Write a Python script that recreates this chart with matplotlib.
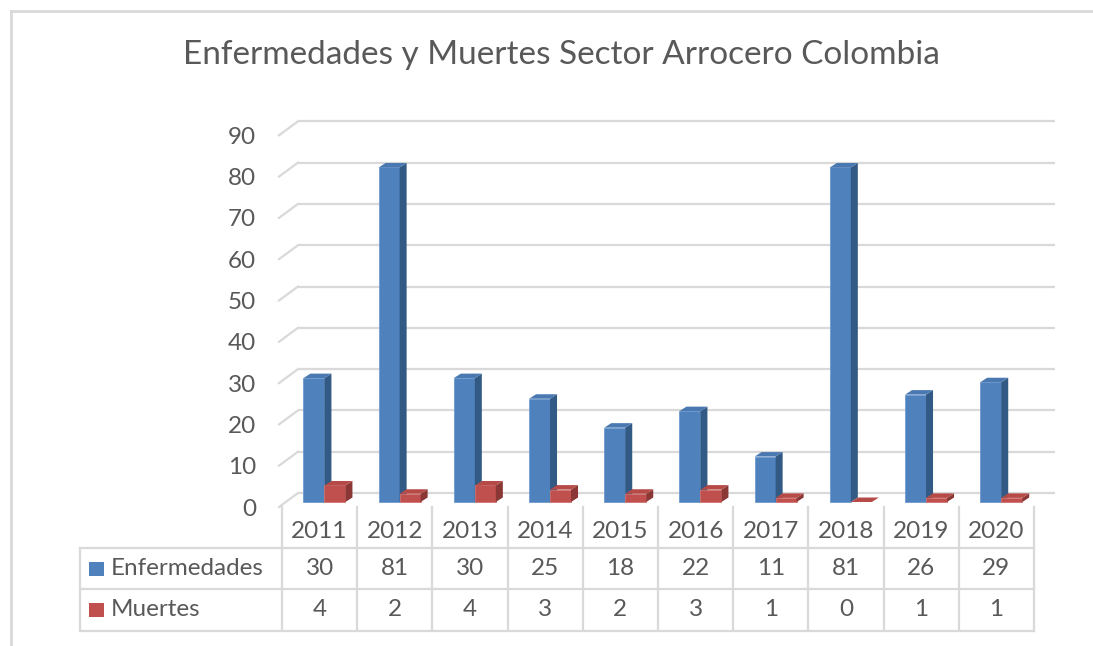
import matplotlib
matplotlib.use('Agg')
import matplotlib.pyplot as plt
from matplotlib.patches import Polygon, Rectangle
import matplotlib.transforms as mtransforms

# data
years = ['2011', '2012', '2013', '2014', '2015', '2016', '2017', '2018', '2019', '2020']
enfermedades = [30, 81, 30, 25, 18, 22, 11, 81, 26, 29]
muertes = [4, 2, 4, 3, 2, 3, 1, 0, 1, 1]
series_names = ['Enfermedades', 'Muertes']
yticks = list(range(0, 100, 10))

W, H = 1093, 646
plt.rcParams['font.family'] = ['Lato', 'DejaVu Sans']
txt = '#595959'
grid_c = '#d9d9d9'
front_c = ['#4f81bd', '#c0504d']
side_c = ['#335a85', '#8a3735']
top_c = ['#4a78b0', '#b54a47']
fs = 17.5

fig = plt.figure(figsize=(W / 100, H / 100), dpi=100)

# pixel helpers for layout
col_w = 75.2          # px per category
x0_px = 282           # left edge of first category column
px_per_unit = 4.13    # px per value unit
floor_px = 502        # pixel row for value 0 at bar base

ax_left, ax_right = 200, 1080
ax_top, ax_bot = 100, 515
ax = fig.add_axes([ax_left / W, 1 - ax_bot / H, (ax_right - ax_left) / W, (ax_bot - ax_top) / H])
ax.set_xlim((ax_left - x0_px) / col_w - 0.5, (ax_right - x0_px) / col_w - 0.5)
ax.set_ylim((floor_px - ax_bot) / px_per_unit, (floor_px - ax_top) / px_per_unit)
ax.axis('off')


def xd(px):
    return (px - x0_px) / col_w - 0.5


# wall geometry (data units)
back_dy = 9 / px_per_unit
front_dy = -5 / px_per_unit
back_left, back_right = xd(298), xd(1055)
front_left = xd(279)

for v in yticks:
    ax.plot([back_left, back_right], [v + back_dy, v + back_dy], color=grid_c, lw=1.6, zorder=1,
            solid_capstyle='butt')
    ax.plot([front_left, back_left], [v + front_dy, v + back_dy], color=grid_c, lw=1.6, zorder=1)
    ax.text(xd(256), v - 1.7, str(v), ha='right', va='center', fontsize=fs, color=txt)

# 3d-looking bars
bar_w = 21 / col_w
ddx = 7 / col_w
ddy = 4.5 / px_per_unit
offsets = [-0.215, -0.215 + bar_w]
for i in range(len(years)):
    for k, vals in enumerate([enfermedades, muertes]):
        v = vals[i]
        l = i + offsets[k]
        r = l + bar_w
        z = 2 + i * 2 + k
        if v > 0:
            ax.add_patch(Rectangle((l, 0), bar_w, v, facecolor=front_c[k], edgecolor='#6f9ad0' if k == 0 else '#d07370',
                                   lw=0.6, zorder=z))
        ax.add_patch(Polygon([(r, 0), (r + ddx, ddy), (r + ddx, v + ddy), (r, v)],
                             facecolor=side_c[k], edgecolor='none', zorder=z))
        ax.add_patch(Polygon([(l, v), (l + ddx, v + ddy), (r + ddx, v + ddy), (r, v)],
                             facecolor=top_c[k], edgecolor='none', zorder=z))

# data table below the plot
tr = mtransforms.blended_transform_factory(ax.transData, fig.transFigure)


def fy(px):
    return 1 - px / H


def hline(x1, x2, ypx):
    fig.add_artist(plt.Line2D([x1, x2], [fy(ypx), fy(ypx)], transform=tr, color=grid_c, lw=1.6))


def vline(x, y1px, y2px):
    fig.add_artist(plt.Line2D([x, x], [fy(y1px), fy(y2px)], transform=tr, color=grid_c, lw=1.6))


label_left = xd(80)
n = len(years)
row_tops = [507, 548, 589, 631]
for j in range(n + 1):
    vline(j - 0.5, row_tops[0], row_tops[3])
vline(label_left, row_tops[1], row_tops[3])
for ypx in row_tops[1:]:
    hline(label_left, n - 0.5, ypx)

for j, yr in enumerate(years):
    fig.text(j, fy(532), yr, transform=tr, ha='center', va='center', fontsize=fs, color=txt)
for r, vals in enumerate([enfermedades, muertes]):
    yc = (row_tops[r + 1] + row_tops[r + 2]) / 2
    for j, v in enumerate(vals):
        fig.text(j, fy(yc), str(v), transform=tr, ha='center', va='center', fontsize=fs, color=txt)
    fig.add_artist(Rectangle((89 / W, fy(yc + 7)), 15 / W, 14 / H, transform=fig.transFigure,
                             facecolor=front_c[r], edgecolor='none'))
    fig.text(111 / W, fy(yc), series_names[r], ha='left', va='center', fontsize=fs, color=txt)

# title and chart border
fig.text(561 / W, fy(55), 'Enfermedades y Muertes Sector Arrocero Colombia', ha='center', va='center',
         fontsize=24, color=txt)
fig.add_artist(plt.Line2D([11 / W, 11 / W], [0, fy(11)], transform=fig.transFigure, color='#d9d9d9', lw=2))
fig.add_artist(plt.Line2D([11 / W, 1], [fy(11), fy(11)], transform=fig.transFigure, color='#d9d9d9', lw=2))

fig.savefig('out.png', dpi=100, facecolor='white')
